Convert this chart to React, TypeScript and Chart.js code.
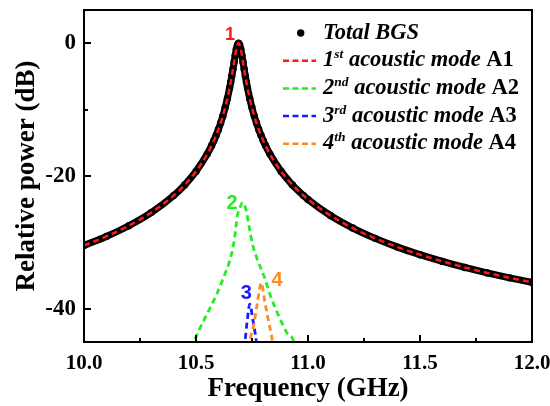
import React, { useEffect, useRef } from 'react';
import { Chart, registerables } from 'chart.js';

Chart.register(...registerables);

// ---- Data ----
const totalFreq = [
  10.0, 10.1, 10.2, 10.3, 10.4, 10.45, 10.5, 10.55, 10.57, 10.58, 10.59, 10.6, 10.61, 10.62, 10.63,
  10.64, 10.65, 10.655, 10.66, 10.665, 10.67, 10.675, 10.68, 10.685, 10.69, 10.695, 10.7, 10.705,
  10.71, 10.715, 10.72, 10.725, 10.73, 10.74, 10.75, 10.76, 10.77, 10.78, 10.79, 10.8, 10.81, 10.83,
  10.88, 10.93, 10.98, 11.0, 11.1, 11.2, 11.3, 11.4, 11.5, 11.6, 11.7, 11.8, 11.9, 12.0,
];
const totalPower = [
  -30.46, -29.1, -27.49, -25.51, -22.95, -21.32, -19.31, -16.7, -15.39, -14.66, -13.86, -12.99, -12.02,
  -10.95, -9.73, -8.35, -6.75, -5.86, -4.91, -3.91, -2.86, -1.83, -0.91, -0.25, 0, -0.25, -0.91, -1.83,
  -2.86, -3.91, -4.91, -5.86, -6.75, -8.35, -9.73, -10.95, -12.02, -12.99, -13.86, -14.66, -15.39, -16.7,
  -19.31, -21.32, -22.95, -23.53, -25.95, -27.84, -29.39, -30.71, -31.85, -32.86, -33.77, -34.59, -35.34,
  -36.03,
];
// Mode A1 overlaps the total BGS curve in the reference
const mode1Freq = totalFreq;
const mode1Power = totalPower;

const mode2Freq = [10.48, 10.498, 10.528, 10.558, 10.595, 10.625, 10.652, 10.667, 10.677, 10.684, 10.697, 10.708, 10.722, 10.737, 10.751, 10.774, 10.804, 10.833, 10.871, 10.908, 10.93, 10.945];
const mode2Power = [-46, -44.4, -42.2, -40.2, -37.6, -35.1, -32.6, -30.4, -28.1, -26.1, -24.7, -24.0, -24.9, -27.6, -30.1, -32.6, -35.1, -38.1, -41.2, -43.7, -44.4, -46];

const mode3Freq = [10.715, 10.719, 10.729, 10.74, 10.754, 10.769, 10.772];
const mode3Power = [-46, -44.9, -41.7, -39.3, -41.7, -44.9, -46];

const mode4Freq = [10.735, 10.74, 10.759, 10.774, 10.792, 10.808, 10.826, 10.841, 10.844];
const mode4Power = [-46, -44.9, -42.2, -39.1, -36.1, -39.1, -42.2, -44.9, -46];

const xTickValues = [10.0, 10.25, 10.5, 10.75, 11.0, 11.25, 11.5, 11.75, 12.0];
const yTickValues = [-40, -30, -20, -10, 0];

const modeOrdinals = ['1', '2', '3', '4'];
const modeSuffixes = ['st', 'nd', 'rd', 'th'];
const modeNames = ['A1', 'A2', 'A3', 'A4'];
const modeColors = ['#ff1a1a', '#22ee22', '#1a1aff', '#ff8a1f'];

const peakLabels = ['1', '2', '3', '4'];
const peakLabelFreq = [10.652, 10.661, 10.725, 10.862];
const peakLabelPower = [1.25, -24.17, -37.71, -35.71];

const SERIF = '"Liberation Serif", "Times New Roman", serif';
const SANS = '"Liberation Sans", Arial, sans-serif';

const toXY = (xs: number[], ys: number[]) => xs.map((x, i) => ({ x, y: ys[i] }));
const isMajorX = (v: number) => Math.abs(v * 2 - Math.round(v * 2)) < 1e-6;
const isMajorY = (v: number) => Math.abs(v % 20) < 1e-6;

function drawLegend(ctx: CanvasRenderingContext2D, a: any) {
  const textX = a.right - 209;
  ctx.textAlign = 'left';
  ctx.textBaseline = 'alphabetic';
  for (let i = 0; i < 5; i++) {
    const base = a.top + 28.5 + i * 27.7;
    const cy = base - 5.5;
    if (i === 0) {
      ctx.fillStyle = '#000';
      ctx.beginPath();
      ctx.arc(a.right - 231.3, cy, 3.7, 0, Math.PI * 2);
      ctx.fill();
      ctx.font = `italic bold 22.5px ${SERIF}`;
      ctx.fillText('Total BGS', textX, base);
    } else {
      const k = i - 1;
      ctx.strokeStyle = modeColors[k];
      ctx.lineWidth = 2.5;
      ctx.setLineDash([6, 3.5]);
      ctx.beginPath();
      ctx.moveTo(a.right - 249, cy);
      ctx.lineTo(a.right - 216, cy);
      ctx.stroke();
      ctx.setLineDash([]);
      ctx.fillStyle = '#000';
      let xx = textX;
      ctx.font = `italic bold 22.5px ${SERIF}`;
      ctx.fillText(modeOrdinals[k], xx, base);
      xx += ctx.measureText(modeOrdinals[k]).width;
      ctx.font = `italic bold 13.5px ${SERIF}`;
      ctx.fillText(modeSuffixes[k], xx, base - 8);
      xx += ctx.measureText(modeSuffixes[k]).width;
      ctx.font = `italic bold 22.5px ${SERIF}`;
      const mid = ' acoustic mode ';
      ctx.fillText(mid, xx, base);
      xx += ctx.measureText(mid).width;
      ctx.font = `bold 22.5px ${SERIF}`;
      ctx.fillText(modeNames[k], xx, base);
    }
  }
}

const decorPlugin = {
  id: 'decor',
  afterDatasetsDraw(chart: any) {
    const { ctx, chartArea: a, scales } = chart;
    const xs = scales.x;
    const ys = scales.y;
    ctx.save();
    ctx.strokeStyle = '#000';
    ctx.lineWidth = 2;
    ctx.beginPath();
    for (const v of xTickValues) {
      const px = Math.round(xs.getPixelForValue(v));
      ctx.moveTo(px, a.bottom);
      ctx.lineTo(px, a.bottom - (isMajorX(v) ? 7 : 4));
    }
    for (const v of yTickValues) {
      const py = Math.round(ys.getPixelForValue(v));
      ctx.moveTo(a.left, py);
      ctx.lineTo(a.left + (isMajorY(v) ? 7 : 4), py);
    }
    ctx.stroke();
    ctx.strokeRect(a.left, a.top, a.right - a.left, a.bottom - a.top);

    ctx.textAlign = 'center';
    ctx.textBaseline = 'middle';
    peakLabels.forEach((t, i) => {
      ctx.font = `bold ${i === 0 ? 18 : 20}px ${SANS}`;
      ctx.fillStyle = modeColors[i];
      ctx.fillText(t, xs.getPixelForValue(peakLabelFreq[i]), ys.getPixelForValue(peakLabelPower[i]));
    });

    drawLegend(ctx, a);
    ctx.restore();
  },
};

export default function App() {
  const ref = useRef<HTMLCanvasElement>(null);
  useEffect(() => {
    if (!ref.current) return;
    const modeDs = (k: number, xs: number[], ys: number[]) => ({
      label: modeNames[k],
      data: toXY(xs, ys),
      borderColor: modeColors[k],
      borderWidth: k === 0 ? 2.5 : 2.8,
      borderDash: [6, 4],
      pointRadius: 0,
      cubicInterpolationMode: 'monotone' as const,
      clip: 0,
      order: 4 - k,
    });
    const chart = new Chart(ref.current, {
      type: 'line',
      data: {
        datasets: [
          {
            label: 'Total BGS',
            data: toXY(totalFreq, totalPower),
            borderColor: '#000',
            backgroundColor: '#000',
            borderWidth: 7,
            borderJoinStyle: 'round',
            borderCapStyle: 'butt',
            pointRadius: 3.7,
            pointBorderWidth: 0,
            pointBackgroundColor: '#000',
            cubicInterpolationMode: 'monotone',
            clip: 0,
            order: 10,
          } as any,
          modeDs(0, mode1Freq, mode1Power),
          modeDs(1, mode2Freq, mode2Power),
          modeDs(2, mode3Freq, mode3Power),
          modeDs(3, mode4Freq, mode4Power),
        ],
      },
      options: {
        animation: false,
        responsive: false,
        devicePixelRatio: 1,
        layout: { padding: { top: 10, right: 18, left: 0, bottom: 0 } },
        plugins: { legend: { display: false }, tooltip: { enabled: false } },
        events: [],
        scales: {
          x: {
            type: 'linear',
            min: 10,
            max: 12,
            position: 'bottom',
            grid: { display: false, drawTicks: false },
            border: { display: false },
            afterBuildTicks: (s: any) => {
              s.ticks = xTickValues.map((v) => ({ value: v }));
            },
            afterFit: (s: any) => {
              s.height = 64;
              s.paddingLeft = 0;
              s.paddingRight = 0;
            },
            ticks: {
              autoSkip: false,
              maxRotation: 0,
              minRotation: 0,
              padding: 9,
              color: '#000',
              font: { family: SERIF, size: 21, weight: 'bold' },
              callback: (v: any) => (isMajorX(Number(v)) ? Number(v).toFixed(1) : ''),
            },
            title: {
              display: true,
              text: 'Frequency (GHz)',
              color: '#000',
              font: { family: SERIF, size: 27, weight: 'bold' },
              padding: { top: 0, bottom: 1 },
            },
          },
          y: {
            type: 'linear',
            min: -45,
            max: 5,
            grid: { display: false, drawTicks: false },
            border: { display: false },
            afterBuildTicks: (s: any) => {
              s.ticks = yTickValues.map((v) => ({ value: v }));
            },
            afterFit: (s: any) => {
              s.width = 84;
              s.paddingTop = 0;
              s.paddingBottom = 0;
            },
            ticks: {
              autoSkip: false,
              padding: 8,
              color: '#000',
              font: { family: SERIF, size: 23, weight: 'bold' },
              callback: (v: any) => (isMajorY(Number(v)) ? String(v) : ''),
            },
            title: {
              display: true,
              text: 'Relative power (dB)',
              color: '#000',
              font: { family: SERIF, size: 27, weight: 'bold' },
              padding: { top: 11, bottom: 0 },
            },
          },
        },
      } as any,
      plugins: [decorPlugin],
    });
    return () => chart.destroy();
  }, []);

  return (
    <div style={{ position: 'fixed', left: 0, top: 0, width: 550, height: 406, background: '#fff' }}>
      <canvas ref={ref} width={550} height={406} style={{ display: 'block', width: 550, height: 406 }} />
    </div>
  );
}
